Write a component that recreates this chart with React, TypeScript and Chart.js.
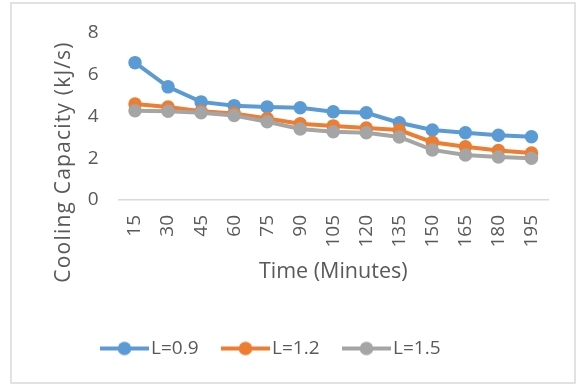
import React, { useEffect, useRef } from "react";
import { Chart, registerables } from "chart.js";

Chart.register(...registerables);

const timeLabels = ["15", "30", "45", "60", "75", "90", "105", "120", "135", "150", "165", "180", "195"];
const seriesNames = ["L=0.9", "L=1.2", "L=1.5"];
const capacityL09 = [6.58, 5.42, 4.7, 4.52, 4.46, 4.42, 4.23, 4.18, 3.7, 3.35, 3.22, 3.1, 3.03];
const capacityL12 = [4.6, 4.45, 4.25, 4.15, 3.9, 3.65, 3.55, 3.45, 3.35, 2.77, 2.55, 2.37, 2.25];
const capacityL15 = [4.28, 4.25, 4.18, 4.05, 3.75, 3.4, 3.27, 3.22, 3.02, 2.4, 2.16, 2.06, 2.0];
const yTicks = [0, 2, 4, 6, 8];

const colors = ["#5B9BD5", "#ED7D31", "#A5A5A5"];
const textColor = "#595959";
const fontFamily = "'Open Sans', sans-serif";

// Legend marker: a short line with a dot on it, like the series lines
function legendSwatch(color: string): HTMLCanvasElement {
  const c = document.createElement("canvas");
  c.width = 65;
  c.height = 16;
  const ctx = c.getContext("2d")!;
  ctx.strokeStyle = color;
  ctx.lineWidth = 4;
  ctx.beginPath();
  ctx.moveTo(16, 8);
  ctx.lineTo(65, 8);
  ctx.stroke();
  ctx.fillStyle = color;
  ctx.beginPath();
  ctx.arc(40.5, 8, 6.8, 0, Math.PI * 2);
  ctx.fill();
  return c;
}

const framePlugin = {
  id: "frame",
  beforeDraw(chart: any) {
    const ctx = chart.ctx;
    ctx.save();
    ctx.fillStyle = "#ffffff";
    ctx.fillRect(0, 0, chart.width, chart.height);
    ctx.strokeStyle = "#d9d9d9";
    ctx.lineWidth = 1.5;
    ctx.strokeRect(11, 3, 564, 380);
    ctx.restore();
  },
  afterDraw(chart: any) {
    // y-axis title
    const ctx = chart.ctx;
    ctx.save();
    ctx.translate(64, 162);
    ctx.rotate(-Math.PI / 2);
    ctx.fillStyle = textColor;
    ctx.font = `21px ${fontFamily}`;
    ctx.letterSpacing = "1.2px";
    ctx.textAlign = "center";
    ctx.textBaseline = "middle";
    ctx.fillText("Cooling Capacity (kJ/s)", 0, 0);
    ctx.restore();
  },
};

export default function App() {
  const canvasRef = useRef<HTMLCanvasElement | null>(null);

  useEffect(() => {
    if (!canvasRef.current) return;
    const swatches = colors.map(legendSwatch);
    const seriesData = [capacityL09, capacityL12, capacityL15];
    const chart = new Chart(canvasRef.current, {
      type: "line",
      data: {
        labels: timeLabels,
        datasets: seriesNames.map((name, i) => ({
          label: name,
          data: seriesData[i],
          borderColor: colors[i],
          backgroundColor: colors[i],
          pointBackgroundColor: colors[i],
          pointBorderColor: colors[i],
          borderWidth: 4,
          pointRadius: 6,
          pointBorderWidth: 1.5,
          tension: 0,
          order: 2 - i,
        })),
      },
      options: {
        animation: false,
        responsive: false,
        maintainAspectRatio: false,
        layout: { padding: { left: -16, right: 30, top: 33, bottom: 18 } },
        plugins: {
          tooltip: { enabled: false },
          legend: {
            position: "bottom",
            labels: {
              usePointStyle: true,
              pointStyleWidth: 50,
              padding: 14,
              color: textColor,
              font: { family: fontFamily, size: 19 },
              sort: (a: any, b: any) => a.datasetIndex - b.datasetIndex,
              generateLabels: (ch: any) =>
                Chart.defaults.plugins.legend.labels
                  .generateLabels(ch)
                  .map((l: any) => ({ ...l, pointStyle: swatches[l.datasetIndex] })),
            },
          },
        },
        scales: {
          x: {
            offset: true,
            grid: { display: false, drawTicks: false, offset: true },
            border: { display: true, color: "#d9d9d9", width: 1.5 },
            ticks: {
              color: textColor,
              font: { family: fontFamily, size: 19 },
              minRotation: 90,
              maxRotation: 90,
              padding: 15,
              autoSkip: false,
            },
            title: {
              display: true,
              text: "Time (Minutes)",
              color: textColor,
              font: { family: fontFamily, size: 21.5 },
              padding: { top: 0, bottom: 40 },
            },
            afterFit: (scale: any) => {
              scale.height = 125;
            },
          },
          y: {
            min: 0,
            max: 8,
            grid: { display: false, drawTicks: false },
            border: { display: false },
            afterBuildTicks: (scale: any) => {
              scale.ticks = yTicks.map((v) => ({ value: v }));
            },
            ticks: {
              color: textColor,
              font: { family: fontFamily, size: 19 },
              padding: 20,
            },
            afterFit: (scale: any) => {
              scale.width = 134.5;
            },
          },
        },
      },
      plugins: [framePlugin],
    });
    return () => chart.destroy();
  }, []);

  return (
    <div style={{ position: "absolute", left: 0, top: 0, width: 578, height: 386, background: "#fff" }}>
      <canvas ref={canvasRef} width={578} height={386} style={{ width: 578, height: 386 }} />
    </div>
  );
}
